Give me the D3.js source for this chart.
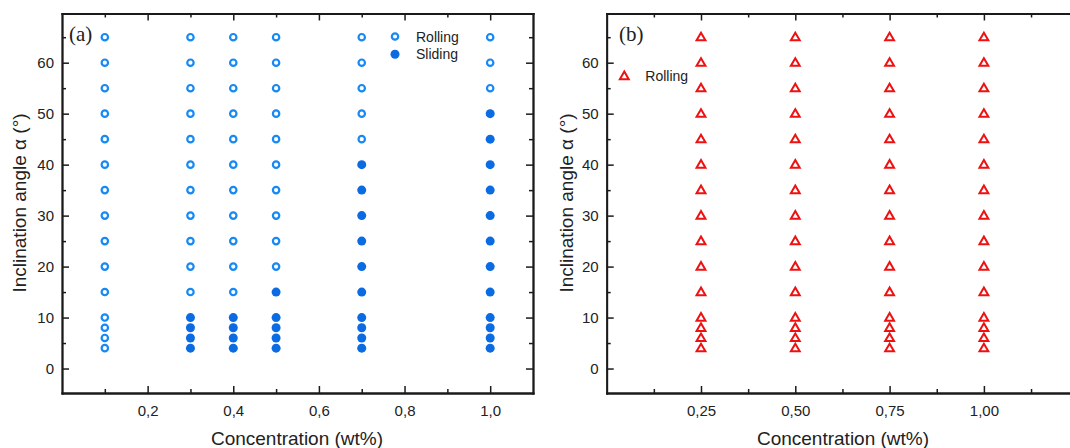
<!DOCTYPE html>
<html>
<head>
<meta charset="utf-8">
<script src="https://cdn.jsdelivr.net/npm/d3@7"></script>
<style>
  body { margin: 0; background: #fff; }
  svg { display: block; }
  text { font-family: Arial, "Liberation Sans", sans-serif; fill: #222; }
</style>
</head>
<body>
<svg id="chart" width="1070" height="448"></svg>
<script>
// ---------- DATA ----------
// Panel (a)
const concA = [0.1, 0.3, 0.4, 0.5, 0.7, 1.0];
const anglesAll = [4, 6, 8, 10, 15, 20, 25, 30, 35, 40, 45, 50, 55, 60, 65];
// highest angle at which sliding occurs for each concentration (0 = none)
const slidingMaxA = [0, 10, 10, 15, 40, 50];
const seriesA = ["Rolling", "Sliding"];
// Panel (b)
const concB = [0.25, 0.50, 0.75, 1.00];
const seriesB = ["Rolling"];
const xTicksA = [0.2, 0.4, 0.6, 0.8, 1.0];
const xMinorA = [0.1, 0.3, 0.5, 0.7, 0.9];
const xTicksB = [0.25, 0.50, 0.75, 1.00];
const xMinorB = [0.125, 0.375, 0.625, 0.875, 1.125];
const yTicks = [0, 10, 20, 30, 40, 50, 60];
const yMinor = [5, 15, 25, 35, 45, 55, 65];
const xLabel = "Concentration (wt%)";
const yLabel = "Inclination angle \u03b1 (\u00b0)";

// build points
const pointsA = [];
concA.forEach((c, i) => anglesAll.forEach(a => {
  pointsA.push({ c, a, type: a <= slidingMaxA[i] ? "Sliding" : "Rolling" });
}));
const pointsB = [];
concB.forEach(c => anglesAll.forEach(a => pointsB.push({ c, a })));

const svg = d3.select("#chart");
const fmt = d => d3.format(".1f")(d).replace(".", ",");
const fmt2 = d => d3.format(".2f")(d).replace(".", ",");

const plotTop = 13.5, plotBottom = 393;
const y = d3.scaleLinear().domain([-4.8, 69.65]).range([plotBottom, plotTop]);

const openBlue = "#1689f4", fillBlue = "#0a6be2", red = "#ee1111";

function frame(g, x, ticks, minor, f) {
  const axColor = "#1a1a1a";
  g.append("g").attr("transform", `translate(0,${plotBottom})`)
    .call(d3.axisBottom(x).tickValues(ticks).tickFormat(f).tickSize(-7).tickSizeOuter(0).tickPadding(12))
    .call(s => s.selectAll("text").style("font-size", "15px").attr("fill", "#222"));
  g.append("g").attr("transform", `translate(0,${plotBottom})`)
    .call(d3.axisBottom(x).tickValues(minor).tickFormat("").tickSize(-4).tickSizeOuter(0));
  g.append("g").attr("transform", `translate(0,${plotTop})`)
    .call(d3.axisTop(x).tickValues(ticks).tickFormat("").tickSize(-7).tickSizeOuter(0));
  g.append("g").attr("transform", `translate(0,${plotTop})`)
    .call(d3.axisTop(x).tickValues(minor).tickFormat("").tickSize(-4).tickSizeOuter(0));
  const x0 = x.range()[0], x1 = x.range()[1];
  g.append("g").attr("transform", `translate(${x0},0)`)
    .call(d3.axisLeft(y).tickValues(yTicks).tickSize(-7).tickSizeOuter(0).tickPadding(8))
    .call(s => s.selectAll("text").style("font-size", "15px").attr("fill", "#222"));
  g.append("g").attr("transform", `translate(${x0},0)`)
    .call(d3.axisLeft(y).tickValues(yMinor).tickFormat("").tickSize(-4).tickSizeOuter(0));
  g.append("g").attr("transform", `translate(${x1},0)`)
    .call(d3.axisRight(y).tickValues(yTicks).tickFormat("").tickSize(-7).tickSizeOuter(0));
  g.append("g").attr("transform", `translate(${x1},0)`)
    .call(d3.axisRight(y).tickValues(yMinor).tickFormat("").tickSize(-4).tickSizeOuter(0));
  g.selectAll(".domain").attr("stroke", axColor).attr("stroke-width", 1.8).attr("stroke-linecap", "square");
  g.selectAll(".tick line").attr("stroke", axColor).attr("stroke-width", 1.5);
}

// ---------- Panel (a) ----------
const xA = d3.scaleLinear().domain([0, 1.1]).range([62, 533]);
const gA = svg.append("g");
frame(gA, xA, xTicksA, xMinorA, fmt);
gA.append("text").attr("x", 297).attr("y", 445)
  .attr("text-anchor", "middle").style("font-size", "19px").text(xLabel);
gA.append("text").attr("transform", "translate(26,203) rotate(-90)")
  .attr("text-anchor", "middle").style("font-size", "19px").text(yLabel);
gA.append("text").attr("x", 69).attr("y", 41)
  .style("font-family", "'Liberation Serif', 'Times New Roman', serif").style("font-size", "21px").text("(a)");

gA.selectAll("circle.pt").data(pointsA).join("circle")
  .attr("cx", d => xA(d.c)).attr("cy", d => y(d.a))
  .attr("r", d => d.type === "Sliding" ? 4.5 : 3.2)
  .attr("fill", d => d.type === "Sliding" ? fillBlue : "none")
  .attr("stroke", d => d.type === "Sliding" ? "none" : openBlue)
  .attr("stroke-width", 2.2);

const legA = gA.append("g").attr("transform", "translate(395,36.5)");
seriesA.forEach((s, i) => {
  const row = legA.append("g").attr("transform", `translate(0,${i * 17.7})`);
  if (s === "Sliding") row.append("circle").attr("r", 4.5).attr("fill", fillBlue);
  else row.append("circle").attr("r", 3.2).attr("fill", "none").attr("stroke", openBlue).attr("stroke-width", 2.2);
  row.append("text").attr("x", 21).attr("y", 5).style("font-size", "14px").text(s);
});

// ---------- Panel (b) ----------
const xB = d3.scaleLinear().domain([0, 1.25]).range([606.7, 606.7 + 1.25 * 377.2]);
const gB = svg.append("g");
frame(gB, xB, xTicksB, xMinorB, fmt2);
gB.append("text").attr("x", 843).attr("y", 445)
  .attr("text-anchor", "middle").style("font-size", "19px").text(xLabel);
gB.append("text").attr("transform", "translate(573,203) rotate(-90)")
  .attr("text-anchor", "middle").style("font-size", "19px").text(yLabel);
gB.append("text").attr("x", 619).attr("y", 41)
  .style("font-family", "'Liberation Serif', 'Times New Roman', serif").style("font-size", "21px").text("(b)");

const tri = d3.symbol().type(d3.symbolTriangle).size(34);
gB.selectAll("path.pt").data(pointsB).join("path")
  .attr("transform", d => `translate(${xB(d.c)},${y(d.a) + 0.6})`)
  .attr("d", tri).attr("fill", "none").attr("stroke", red).attr("stroke-width", 2);

const legB = gB.append("g").attr("transform", "translate(624.3,76)");
seriesB.forEach((s, i) => {
  const row = legB.append("g").attr("transform", `translate(0,${i * 17.7})`);
  row.append("path").attr("d", tri).attr("transform", "translate(0,0.6)")
    .attr("fill", "none").attr("stroke", red).attr("stroke-width", 2);
  row.append("text").attr("x", 21).attr("y", 5).style("font-size", "14px").text(s);
});
</script>
</body>
</html>
